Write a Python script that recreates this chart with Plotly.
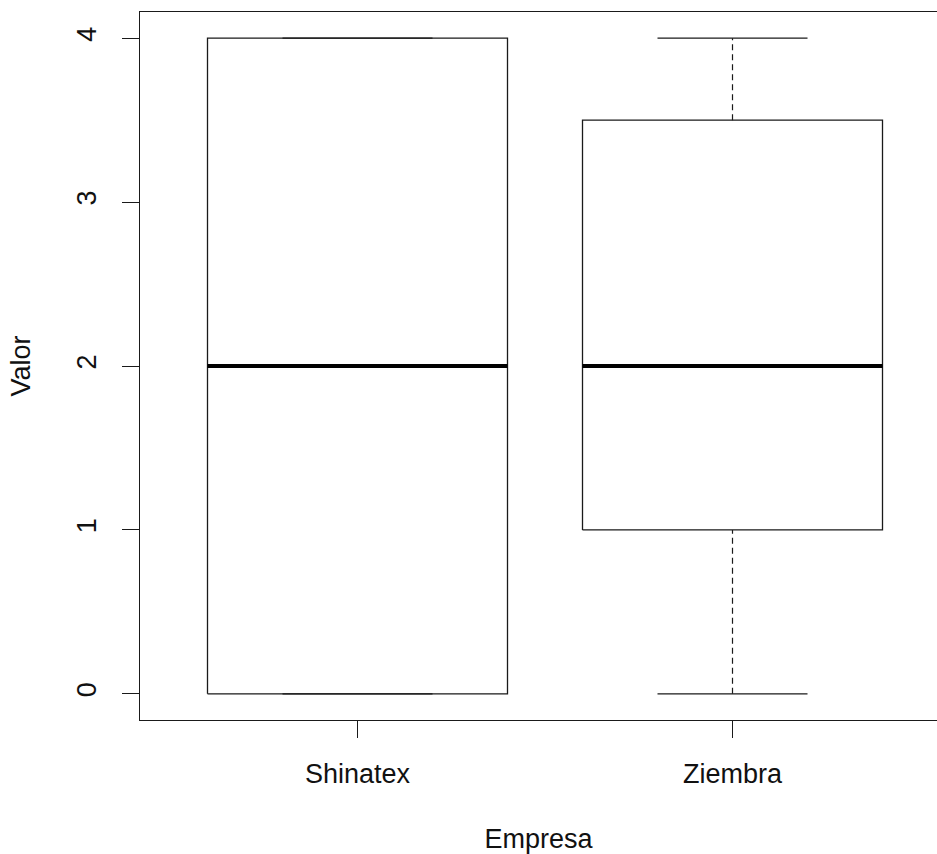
import plotly.graph_objects as go

empresas = ["Shinatex", "Ziembra"]
minimo = [0, 0]
q1 = [0, 1]
mediana = [2, 2]
q3 = [4, 3.5]
maximo = [4, 4]
y_ticks = [0, 1, 2, 3, 4]

fig = go.Figure()
line_color = "#1a1a1a"

for i, name in enumerate(empresas):
    xc = i + 1
    # box
    fig.add_trace(go.Scatter(
        x=[xc - 0.4, xc + 0.4, xc + 0.4, xc - 0.4, xc - 0.4],
        y=[q1[i], q1[i], q3[i], q3[i], q1[i]],
        mode="lines", line=dict(color=line_color, width=1.3),
        showlegend=False, hoverinfo="skip"))
    # whiskers (dashed)
    for lo, hi in [(minimo[i], q1[i]), (q3[i], maximo[i])]:
        if hi > lo:
            fig.add_trace(go.Scatter(
                x=[xc, xc], y=[lo, hi], mode="lines",
                line=dict(color=line_color, width=1.2, dash="6px,4px"),
                showlegend=False, hoverinfo="skip"))
    # whisker caps
    for v in [minimo[i], maximo[i]]:
        fig.add_trace(go.Scatter(
            x=[xc - 0.2, xc + 0.2], y=[v, v], mode="lines",
            line=dict(color=line_color, width=1.3),
            showlegend=False, hoverinfo="skip"))
    # median
    fig.add_trace(go.Scatter(
        x=[xc - 0.4, xc + 0.4], y=[mediana[i], mediana[i]], mode="lines",
        line=dict(color="#000000", width=4),
        showlegend=False, hoverinfo="skip"))

font = dict(family="Liberation Sans, Arial, sans-serif", size=27, color="#111111")

fig.update_layout(
    width=937, height=854,
    margin=dict(l=140, r=0, t=12, b=134),
    plot_bgcolor="white", paper_bgcolor="white",
    font=font,
    xaxis=dict(
        range=[0.42, 0.42 + 797 / 375], tickmode="array",
        tickvals=[1, 2], ticktext=empresas,
        showgrid=False, zeroline=False,
        showline=True, linecolor=line_color, linewidth=1.3, mirror=True,
        ticks="outside", ticklen=17, tickcolor=line_color, tickwidth=1.3,
        ticklabelstandoff=12,
        title=dict(text="Empresa", standoff=48, font=font)),
    yaxis=dict(
        range=[-0.16, 4.16], tickmode="array", tickvals=y_ticks,
        ticktext=[str(v) for v in y_ticks], tickangle=-90,
        showgrid=False, zeroline=False,
        showline=True, linecolor=line_color, linewidth=1.3,
        ticks="outside", ticklen=17, tickcolor=line_color, tickwidth=1.3,
        ticklabelstandoff=15,
        title=dict(text="Valor", standoff=33, font=font)),
)

# drop the page's default body margin so the figure fills the window exactly
fig.write_html(
    "out.html",
    config={"displayModeBar": False},
    post_script="document.body.style.margin='0';document.body.style.overflow='hidden';",
)
